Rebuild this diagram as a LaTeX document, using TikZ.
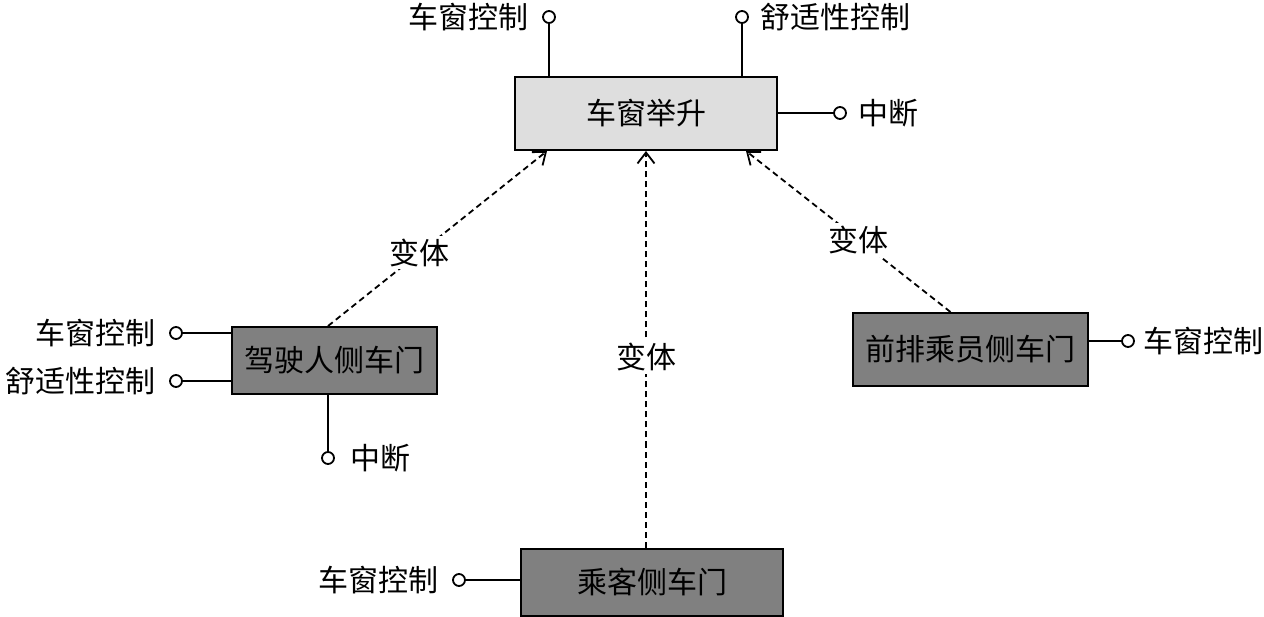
\documentclass[tikz,border=0pt]{standalone}
\usepackage{fontspec}
\setmainfont{Noto Sans CJK SC}
\usetikzlibrary{arrows.meta,positioning}
\tikzset{
mainbox/.style={draw, line width=2pt, fill=black!13, minimum width=262pt, minimum height=73pt},
doorbox/.style={draw, line width=2pt, fill=black!50, minimum height=67pt},
port/.style={draw, circle, line width=1.8pt, fill=white, inner sep=0pt, minimum size=12pt},
txt/.style={inner sep=0pt},
wire/.style={line width=2pt},
dep/.style={line width=1.8pt, dash pattern=on 6pt off 4pt, -{Straight Barb[length=11pt, width=17pt]}},
lbl/.style={fill=white, inner sep=3pt}
}
\begin{document}
\begin{tikzpicture}[x=1pt, y=-1pt, font=\fontsize{30}{34}\selectfont]
\useasboundingbox (0,0) rectangle (1264,617);
\node[mainbox] (lift) at (646,113.5) {车窗举升};
\node[doorbox, minimum width=205pt] (driver) at (334.5,360.5) {驾驶人侧车门};
\node[doorbox, minimum width=235pt, minimum height=73pt] (front) at (970.5,349.5) {前排乘员侧车门};
\node[doorbox, minimum width=262pt] (pass) at (652,582) {乘客侧车门};
% ports
\node[port] (liftW) at (549,17) {};
\node[port] (liftC) at (742,17) {};
\node[port] (liftI) at (840,113) {};
\node[port] (drvW) at (176,333) {};
\node[port] (drvC) at (176,381) {};
\node[port] (drvI) at (328,458) {};
\node[port] (frW) at (1128,341) {};
\node[port] (psW) at (459,580) {};
\node[txt, left=13pt of liftW] (liftWt) {车窗控制};
\node[txt, right=11pt of liftC] (liftCt) {舒适性控制};
\node[txt, right=11pt of liftI] (liftIt) {中断};
\node[txt, left=13pt of drvW] (drvWt) {车窗控制};
\node[txt, left=13pt of drvC] (drvCt) {舒适性控制};
\node[txt, right=15pt of drvI] (drvIt) {中断};
\node[txt, right=8pt of frW] (frWt) {车窗控制};
\node[txt, left=13pt of psW] (psWt) {车窗控制};
\draw[wire] (liftW) -- (liftW |- lift.north);
\draw[wire] (liftC) -- (liftC |- lift.north);
\draw[wire] (liftI) -- (liftI -| lift.east);
\draw[wire] (drvW) -- (drvW -| driver.west);
\draw[wire] (drvC) -- (drvC -| driver.west);
\draw[wire] (drvI) -- (drvI |- driver.south);
\draw[wire] (frW) -- (frW -| front.east);
\draw[wire] (psW) -- (psW -| pass.west);
% variants
\draw[dep] (drvI |- driver.north) -- ([xshift=33pt]lift.south west) node[lbl, pos=.42] (v1) {变体};
\draw[dep] (lift.south |- pass.north) -- (lift.south) node[lbl, pos=.48] (v2) {变体};
\draw[dep] ([xshift=-20pt]front.north) -- ([xshift=-32pt]lift.south east) node[lbl, pos=.45] (v3) {变体};
\end{tikzpicture}
\end{document}
